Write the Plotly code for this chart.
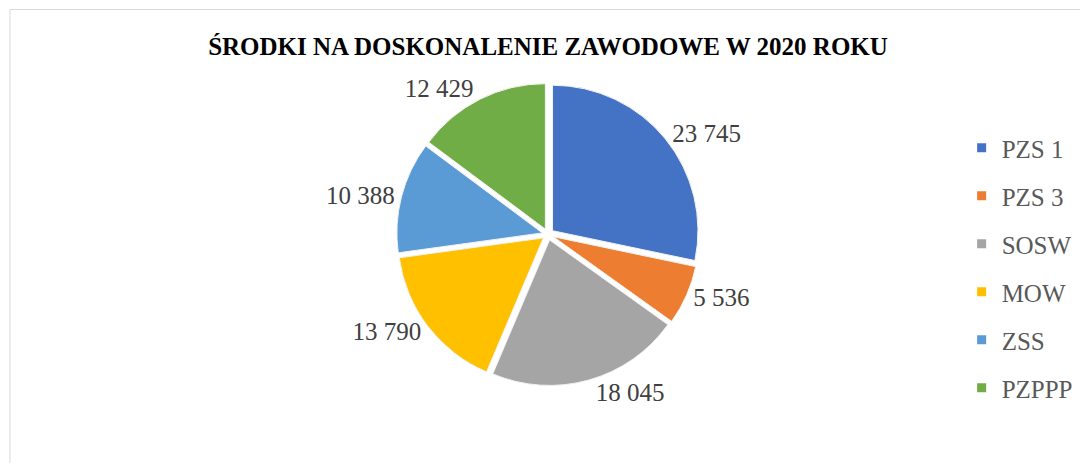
import plotly.graph_objects as go

categories = ["PZS 1", "PZS 3", "SOSW", "MOW", "ZSS", "PZPPP"]
values = [23745, 5536, 18045, 13790, 10388, 12429]
colors = ["#4472C4", "#ED7D31", "#A5A5A5", "#FFC000", "#5B9BD5", "#70AD47"]
title_text = "<b>ŚRODKI NA DOSKONALENIE ZAWODOWE W 2020 ROKU</b>"

# page body adds an 8px margin, so the figure is drawn 8px smaller
W, H = 1080, 455
SERIF = "Liberation Serif"

fig = go.Figure()
fig.add_trace(go.Pie(
    labels=categories,
    values=values,
    sort=False,
    direction="clockwise",
    rotation=0,
    marker=dict(colors=colors, line=dict(color="#F2F2F2", width=1)),
    pull=[0.04] * len(values),
    textposition="outside",
    texttemplate="%{value:,}",
    textfont=dict(family=SERIF, size=25, color="#404040"),
    showlegend=False,
    domain=dict(x=[0.3, 0.7], y=[0.17, 0.835]),
    hoverinfo="label+value",
))

# legend entries (one group each to get Excel-like spacing)
for cat, col in zip(categories, colors):
    fig.add_trace(go.Scatter(
        x=[None], y=[None], mode="markers", name=cat,
        marker=dict(symbol="square", size=9, color=col),
        legendgroup=cat, showlegend=True,
    ))

fig.update_layout(
    width=W, height=H,
    margin=dict(l=0, r=0, t=0, b=0),
    paper_bgcolor="white", plot_bgcolor="white",
    separators=", ",
    title=dict(text=title_text, x=0.5, xanchor="center", y=1 - 38 / H, yanchor="middle",
               font=dict(family=SERIF, size=25, color="#000000")),
    legend=dict(x=0.883, xanchor="left", y=1 - 260 / H, yanchor="middle",
                font=dict(family=SERIF, size=25, color="#595959"),
                tracegroupgap=12.5, itemwidth=30, bgcolor="rgba(0,0,0,0)"),
    xaxis=dict(visible=False), yaxis=dict(visible=False),
    shapes=[dict(type="rect", xref="paper", yref="paper",
                 x0=2 / W, x1=1.05, y0=-0.1, y1=1 - 1.5 / H,
                 line=dict(color="#D9D9D9", width=1), fillcolor="rgba(0,0,0,0)", layer="below")],
)

fig.write_html("out.html")
